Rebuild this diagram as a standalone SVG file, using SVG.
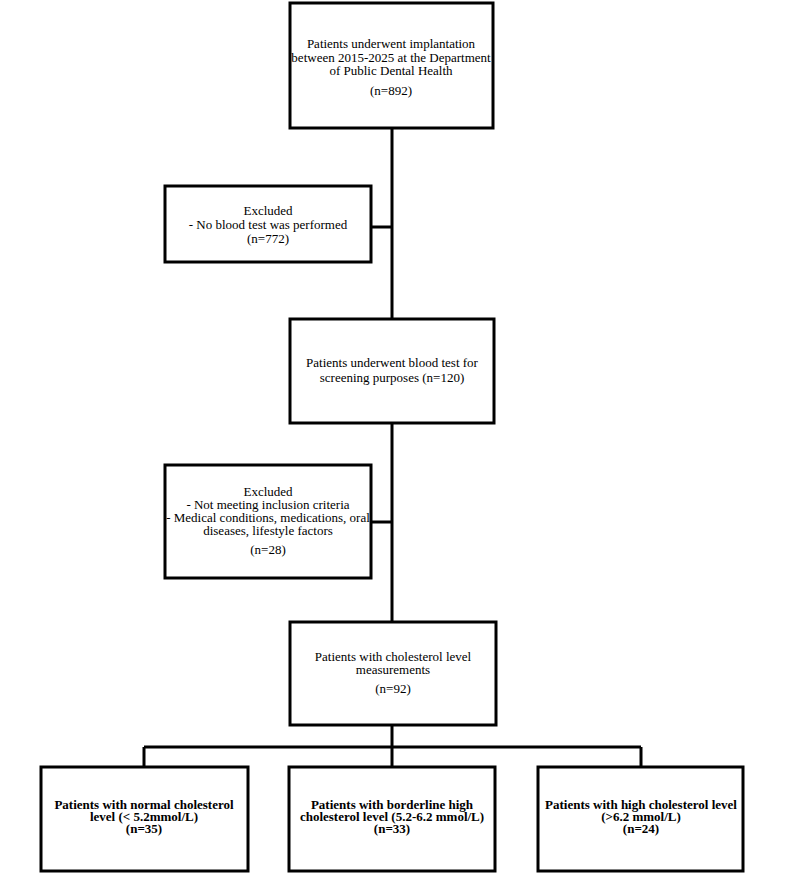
<svg xmlns="http://www.w3.org/2000/svg" width="794" height="876" viewBox="0 0 794 876">
<style>
.box{fill:#fff;stroke:#000;stroke-width:3}
.t{font-family:"Liberation Serif","Times New Roman",serif;font-size:13px;fill:#000;text-anchor:middle}
.b{font-weight:bold}
.c{stroke:#000;stroke-width:3;fill:none}
</style>
<rect width="794" height="876" fill="#fff"/>
<g id="connectors">
<path class="c" d="M392 128V319M392 423V622M371 227H392M371 522H392M392 725V767M144 747H641M144 747V767M641 747V767"/>
</g>
<g id="n1">
<rect class="box" x="290" y="3" width="203" height="125"/>
<text class="t" x="391" y="48">Patients underwent implantation</text>
<text class="t" x="391" y="62">between 2015-2025 at the Department</text>
<text class="t" x="391" y="75">of Public Dental Health</text>
<text class="t" x="391" y="95">(n=892)</text>
</g>
<g id="n2">
<rect class="box" x="165" y="186" width="206" height="76"/>
<text class="t" x="268" y="215">Excluded</text>
<text class="t" x="268" y="229">- No blood test was performed</text>
<text class="t" x="268" y="243">(n=772)</text>
</g>
<g id="n3">
<rect class="box" x="290" y="319" width="204" height="104"/>
<text class="t" x="392" y="367">Patients underwent blood test for</text>
<text class="t" x="392" y="382">screening purposes (n=120)</text>
</g>
<g id="n4">
<rect class="box" x="165" y="465" width="206" height="113"/>
<text class="t" x="268" y="496">Excluded</text>
<text class="t" x="268" y="509">- Not meeting inclusion criteria</text>
<text class="t" x="268" y="522">- Medical conditions, medications, oral</text>
<text class="t" x="268" y="535">diseases, lifestyle factors</text>
<text class="t" x="268" y="554">(n=28)</text>
</g>
<g id="n5">
<rect class="box" x="290" y="622" width="206" height="103"/>
<text class="t" x="393" y="661">Patients with cholesterol level</text>
<text class="t" x="393" y="674">measurements</text>
<text class="t" x="393" y="693">(n=92)</text>
</g>
<g id="n6">
<rect class="box" x="41" y="767" width="207" height="104"/>
<text class="t b" x="144" y="809">Patients with normal cholesterol</text>
<text class="t b" x="144" y="821">level (&lt; 5.2mmol/L)</text>
<text class="t b" x="144" y="833">(n=35)</text>
</g>
<g id="n7">
<rect class="box" x="289" y="767" width="206" height="104"/>
<text class="t b" x="392" y="809">Patients with borderline high</text>
<text class="t b" x="392" y="821">cholesterol level (5.2-6.2 mmol/L)</text>
<text class="t b" x="392" y="833">(n=33)</text>
</g>
<g id="n8">
<rect class="box" x="538" y="767" width="205" height="104"/>
<text class="t b" x="641" y="809">Patients with high cholesterol level</text>
<text class="t b" x="641" y="821">(&gt;6.2 mmol/L)</text>
<text class="t b" x="641" y="833">(n=24)</text>
</g>
</svg>
